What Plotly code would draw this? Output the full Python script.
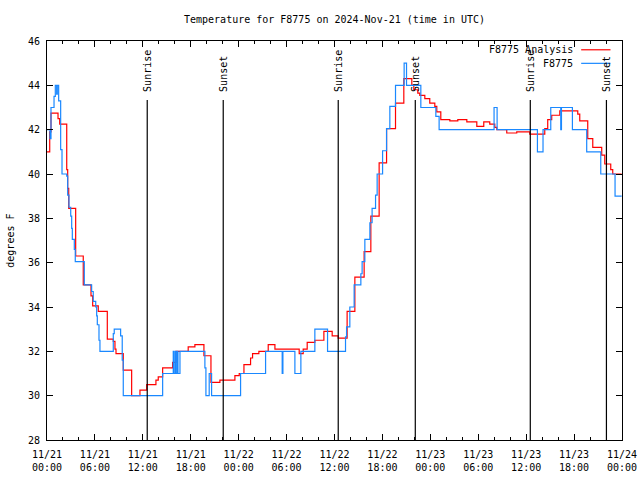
import pandas as pd
import plotly.graph_objects as go

# Observation (F8775) - hours since 2024-11-21 00:00 UTC and deg F
obs_hours = [0.00, 0.38, 0.50, 0.88, 1.04, 1.21, 1.29, 1.46, 1.71, 1.88, 2.47, 2.59, 2.75, 2.97,
             3.09, 3.17, 3.42, 3.54, 4.67, 5.59, 5.79, 6.10, 6.22, 6.30, 6.51, 6.63, 8.30, 8.42,
             9.22, 9.42, 9.55, 14.48, 15.81, 15.89, 16.06, 16.15, 16.31, 16.40, 16.65, 19.77,
             19.90, 20.31, 20.61, 24.24, 27.37, 29.45, 29.54, 31.04, 31.79, 33.54, 35.13, 37.38,
             37.51, 37.92, 38.46, 39.30, 39.46, 39.80, 40.43, 40.71, 41.14, 41.34, 42.02, 42.52,
             42.93, 43.64, 44.72, 45.02, 46.81, 48.69, 49.10, 55.98, 56.36, 61.41, 62.11, 63.08,
             64.33, 64.42, 65.79, 67.58, 69.34, 71.13, 71.96]
obs_temp = [42.0, 41.6, 43.0, 43.5, 44.0, 43.6, 44.0, 43.3, 41.1, 40.0, 39.9, 39.05, 38.5, 38.1,
            37.55, 37.05, 36.6, 36.05, 35.0, 34.7, 34.25, 34.0, 33.6, 33.2, 32.5, 32.0, 32.8, 33.0,
            32.7, 31.6, 30.0, 31.0, 32.0, 31.0, 32.0, 31.0, 32.0, 31.0, 32.0, 31.25,
            30.0, 31.0, 30.0, 31.0, 32.0, 31.0, 32.0, 31.0, 32.0, 33.0, 32.0, 32.65,
            33.1, 34.0, 35.0, 35.5, 36.05, 37.05, 37.8, 38.45, 39.05, 40.0, 41.05, 42.05,
            43.05, 44.0, 45.0, 44.0, 43.0, 42.6, 42.0, 43.0, 42.0, 41.0, 42.0, 43.0,
            42.0, 43.0, 42.0, 41.0, 40.0, 39.0, 39.0]

# Analysis (F8775 Analysis)
ana_hours = [0.00, 0.34, 0.50, 1.38, 1.59, 2.47, 2.59, 2.72, 3.59, 4.54, 5.51, 5.72, 6.42, 7.55,
             8.30, 8.51, 8.64, 9.55, 10.60, 11.64, 12.48, 13.64, 13.93, 14.48, 15.73, 16.15,
             17.68, 18.52, 19.65, 20.53, 21.65, 23.53, 24.07, 24.66, 25.49, 25.74, 26.53, 27.70,
             28.54, 31.58, 32.08, 32.58, 33.54, 34.67, 35.71, 36.46, 37.58, 38.55, 39.71, 40.55,
             41.59, 42.52, 43.64, 44.68, 45.68, 45.93, 46.43, 46.68, 47.31, 47.93, 48.56, 48.81,
             49.31, 50.44, 51.44, 52.57, 53.82, 54.69, 55.44, 56.07, 56.32, 57.57, 58.82, 60.45,
             62.33, 62.70, 63.20, 64.21, 66.46, 66.71, 67.71, 68.34, 69.46, 69.84, 70.59, 70.84,
             71.96]
ana_temp = [41.0, 41.9, 42.75, 42.5, 42.25, 40.2, 39.35, 38.45, 36.3, 35.0, 34.5, 34.05, 33.8, 32.55,
            32.45, 32.1, 31.9, 31.15, 30.0, 30.25, 30.5, 30.7, 30.85, 31.25, 31.5, 32.0,
            32.2, 32.3, 31.8, 30.6, 30.7, 30.9, 31.0, 31.4, 31.7, 31.9, 32.0, 32.3,
            32.1, 31.9, 32.1, 32.4, 32.5, 32.9, 32.7, 32.6, 33.8, 35.35, 36.5, 38.1,
            40.5, 42.05, 43.2, 44.3, 44.0, 43.8, 43.65, 43.55, 43.4, 43.2, 43.05, 42.8,
            42.45, 42.4, 42.45, 42.35, 42.15, 42.35, 42.25, 42.1, 42.0, 41.85, 41.9, 41.8,
            42.05, 42.45, 42.65, 42.85, 42.7, 42.4, 41.6, 41.2, 40.85, 40.45, 40.2, 40.0,
            40.0]

sun_events = ["2024-11-21 12:33", "2024-11-21 22:04", "2024-11-22 12:28",
              "2024-11-22 22:07", "2024-11-23 12:31", "2024-11-23 22:03"]
sun_labels = ["Sunrise", "Sunset", "Sunrise", "Sunset", "Sunrise", "Sunset"]

y_ticks = [28, 30, 32, 34, 36, 38, 40, 42, 44, 46]

base = pd.Timestamp("2024-11-21 00:00")
obs_t = base + pd.to_timedelta(obs_hours, unit="h")
ana_t = base + pd.to_timedelta(ana_hours, unit="h")

FONT = "DejaVu Sans Mono"
RED = "#ff0000"
BLUE = "#1a88ff"

fig = go.Figure()
fig.add_trace(go.Scatter(x=ana_t, y=ana_temp, mode="lines", line=dict(color=RED, width=1.2, shape="hv"),
                         name="F8775 Analysis"))
fig.add_trace(go.Scatter(x=obs_t, y=obs_temp, mode="lines", line=dict(color=BLUE, width=1.2, shape="hv"),
                         name="F8775"))

for t, lab in zip(sun_events, sun_labels):
    fig.add_shape(type="line", xref="x", yref="paper", x0=t, x1=t, y0=0, y1=0.852,
                  line=dict(color="black", width=1.2))
    fig.add_annotation(x=t, xref="x", yref="paper", y=0.868, yanchor="bottom", xanchor="center",
                       text=lab, textangle=-90, showarrow=False,
                       font=dict(family=FONT, size=10, color="black"))

# custom legend (text left of line sample as in gnuplot)
legend_items = [("F8775 Analysis", RED, 0.978), ("F8775", BLUE, 0.944)]
for txt, col, yy in legend_items:
    fig.add_annotation(x=0.918, y=yy, xref="paper", yref="paper", xanchor="right", yanchor="middle",
                       text=txt, showarrow=False, font=dict(family=FONT, size=10, color="black"))
    fig.add_shape(type="line", xref="paper", yref="paper", x0=0.929, x1=0.980, y0=yy, y1=yy,
                  line=dict(color=col, width=1.2))

# y-axis title
fig.add_annotation(x=-0.064, y=0.5, xref="paper", yref="paper", xanchor="center", yanchor="middle",
                   text="degrees F", textangle=-90, showarrow=False,
                   font=dict(family=FONT, size=10, color="black"))

fig.update_layout(
    width=640, height=480,
    margin=dict(l=47, r=18, t=41, b=40, pad=0),
    paper_bgcolor="white", plot_bgcolor="white",
    showlegend=False,
    font=dict(family=FONT, size=10, color="black"),
    title=dict(text="Temperature for F8775 on 2024-Nov-21 (time in UTC)", x=0.5, xref="paper",
               xanchor="center", y=0.96, yref="container", yanchor="middle",
               font=dict(family=FONT, size=10, color="black")),
    xaxis=dict(range=["2024-11-21 00:00", "2024-11-24 00:00"], type="date", automargin=False,
               tickmode="linear", tick0="2024-11-21 00:00", dtick=6 * 3600 * 1000,
               tickformat="%m/%d<br>%H:%M", ticks="inside", ticklen=6, tickcolor="black",
               ticklabelstandoff=5, ticklabeloverflow="allow",
               showline=True, linecolor="black", linewidth=1, mirror="allticks",
               showgrid=False, zeroline=False,
               minor=dict(ticks="inside", ticklen=3, dtick=2 * 3600 * 1000, tickcolor="black",
                          showgrid=False),
               tickfont=dict(family=FONT, size=10, color="black")),
    yaxis=dict(range=[28, 46], tickmode="array", tickvals=y_ticks, ticktext=[str(v) for v in y_ticks],
               automargin=False, ticks="inside", ticklen=6, tickcolor="black",
               ticklabelstandoff=4,
               showline=True, linecolor="black", linewidth=1, mirror="allticks",
               showgrid=False, zeroline=False,
               tickfont=dict(family=FONT, size=10, color="black")),
)

# remove the default page margin so the 640x480 figure fills the window exactly
post = ("document.documentElement.style.margin='0';document.body.style.margin='0';"
        "document.documentElement.style.overflow='hidden';document.body.style.overflow='hidden';")
fig.write_html("out.html", post_script=post, config={"displayModeBar": False})
